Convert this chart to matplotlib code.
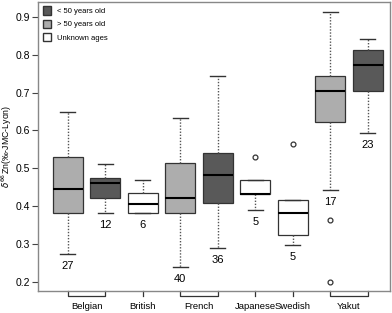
import numpy as np
import matplotlib.pyplot as plt
from matplotlib.patches import Patch

plt.rcParams['font.family'] = ['Liberation Sans', 'DejaVu Sans']

# box statistics (left to right)
groups = ['Belgian', 'British', 'French', 'Japanese', 'Swedish', 'Yakut']
age = ['old', 'young', 'unk', 'old', 'young', 'unk', 'unk', 'old', 'young']
whislo = [0.273, 0.381, 0.381, 0.240, 0.290, 0.389, 0.296, 0.442, 0.593]
q1 = [0.381, 0.421, 0.381, 0.381, 0.407, 0.431, 0.323, 0.622, 0.704]
med = [0.444, 0.460, 0.405, 0.421, 0.481, 0.431, 0.381, 0.704, 0.773]
q3 = [0.529, 0.474, 0.434, 0.513, 0.540, 0.468, 0.415, 0.744, 0.813]
whishi = [0.649, 0.510, 0.470, 0.633, 0.744, 0.468, 0.415, 0.913, 0.842]
fliers = [[], [], [], [], [], [0.530], [0.564], [0.363, 0.200], []]
counts = ['27', '12', '6', '40', '36', '5', '5', '17', '23']
group_pos = [(1, 2), (3, 3), (4, 5), (6, 6), (7, 7), (8, 9)]

colors = {'young': '#595959', 'old': '#adadad', 'unk': 'white'}

stats = []
for i in range(len(med)):
    stats.append(dict(med=med[i], q1=q1[i], q3=q3[i], whislo=whislo[i],
                      whishi=whishi[i], fliers=fliers[i]))
pos = np.arange(1, len(med) + 1)

fig = plt.figure(figsize=(3.92, 3.13), dpi=100)
ax = fig.add_axes([0.097, 0.070, 0.898, 0.924])

bp = ax.bxp(stats, positions=pos, widths=0.8, patch_artist=True,
            showfliers=True, capwidths=0.4,
            boxprops=dict(edgecolor='#333333', linewidth=0.9),
            medianprops=dict(color='black', linewidth=1.5),
            whiskerprops=dict(color='#555555', linestyle=(0, (1, 1.2)), linewidth=1),
            capprops=dict(color='#333333', linewidth=1),
            flierprops=dict(marker='o', markersize=3.5, markerfacecolor='white',
                            markeredgecolor='#333333', markeredgewidth=0.9))
for patch, a in zip(bp['boxes'], age):
    patch.set_facecolor(colors[a])

for x, lo, c in zip(pos, whislo, counts):
    ax.text(x, lo - 0.032, c, ha='center', va='center', fontsize=8)

ax.set_xlim(0.2, 9.6)
ax.set_ylim(0.175, 0.94)
ax.set_yticks([0.2, 0.3, 0.4, 0.5, 0.6, 0.7, 0.8, 0.9])
ax.tick_params(axis='y', labelsize=7.5, length=4, width=0.8, color='#444444', pad=2)
ax.set_xticks([])
for s in ax.spines.values():
    s.set_color('#888888')
    s.set_linewidth(1)
ax.set_ylabel(r'$\delta^{66}$Zn(‰-JMC-Lyon)', fontsize=6.3)
ax.yaxis.set_label_coords(-0.068, 0.5)

# group brackets below the axis
tr = ax.get_xaxis_transform()
for g, (a, b) in zip(groups, group_pos):
    if a == b:
        ax.plot([a, a], [0, -0.018], color='#333333', lw=0.9, transform=tr, clip_on=False)
    else:
        ax.plot([a, a, b, b], [0, -0.018, -0.018, 0], color='#333333', lw=0.9,
                transform=tr, clip_on=False)
    ax.text((a + b) / 2, -0.052, g, ha='center', va='center', fontsize=6.8,
            transform=tr)

handles = [Patch(facecolor=colors['young'], edgecolor='#333333', label='< 50 years old'),
           Patch(facecolor=colors['old'], edgecolor='#333333', label='> 50 years old'),
           Patch(facecolor='white', edgecolor='#333333', label='Unknown ages')]
ax.legend(handles=handles, loc='upper left', frameon=False, fontsize=5.5,
          handlelength=1.1, handleheight=1.3, borderaxespad=0.2, labelspacing=0.6)

plt.savefig('out.png', dpi=100)
